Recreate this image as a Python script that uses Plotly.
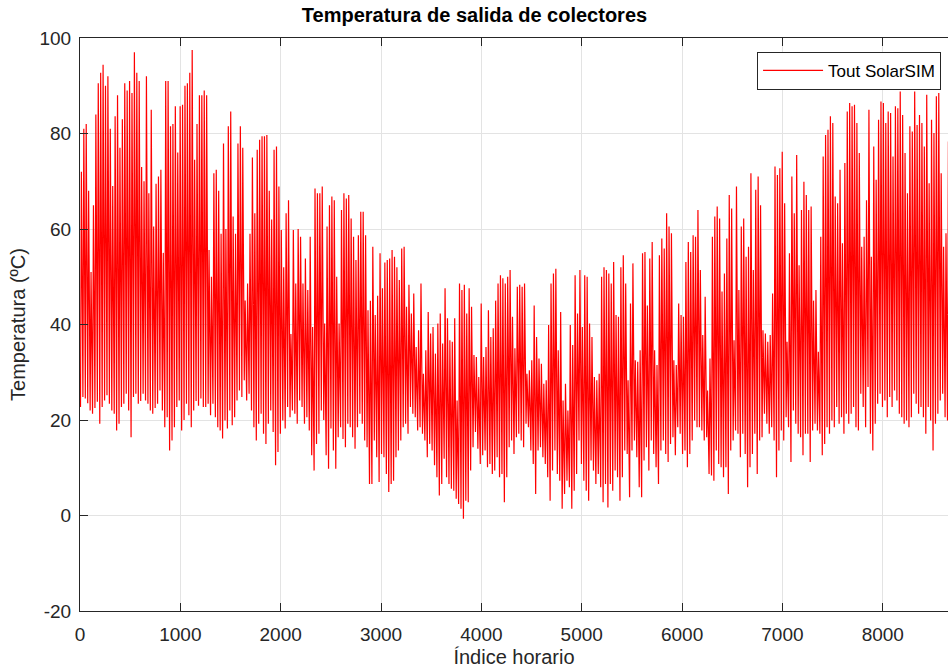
import plotly.graph_objects as go

# Daily maximum outlet temperatures (°C), grouped by ~46-day blocks
max_b1 = [72, 81, 82, 68, 51, 65, 84, 90.5, 92.7, 94.4, 90, 92, 81, 69, 83.6, 88, 77, 83, 90.5, 89, 91, 88.5, 97, 92.7, 91, 73, 70, 92, 67.5, 85, 60.5, 69.5, 71, 72.4, 55, 91, 91, 81.5, 82, 85.7, 76, 85.7, 86, 90, 90.5, 92.7]
max_b2 = [97.5, 74.5, 82, 88, 88, 89, 88, 55.6, 50, 71.7, 72.4, 68, 59, 77.9, 60, 81.5, 84.6, 62.6, 59, 77.9, 81.5, 77, 45, 48.6, 59, 75, 63.3, 76.6, 78.7, 79.4, 79.4, 79.7, 68, 62, 76.6, 77.3, 68.9, 59.8, 52, 63.3, 66, 38, 59.8, 48.6, 60, 58.4]
max_b3 = [48.6, 53.8, 47.2, 58.4, 39.5, 68.5, 67.5, 67.5, 68.9, 40.2, 60.5, 65, 66.8, 66, 50, 40.2, 64, 67.5, 66.4, 67.1, 62.2, 58.4, 53.5, 58.7, 63.6, 63.6, 58.7, 43, 45, 56.3, 42, 46, 54.9, 47.6, 53, 53.5, 53.8, 55.6, 54.2, 52, 49.3, 55.9, 56.3, 43.7, 48.3]
max_b4 = [42.3, 46.5, 35.3, 38.8, 48.6, 29.7, 34.6, 42.6, 38.1, 39.5, 33.9, 40.2, 42.3, 36, 47.6, 41.3, 36.7, 36.4, 41.3, 24.1, 48.6, 47.2, 48.3, 42.3, 47.6, 43.7, 33.6, 33.2, 29, 44.4, 33.2, 35.3, 43, 37.4, 39.2, 45, 48.6, 50.3, 49.7, 48.6, 50, 51.4, 41.6, 35, 47.9, 48.3]
max_b5 = [47.9, 48.6, 29.7, 30.4, 32.5, 44, 37.4, 32.9, 31.8, 27.6, 28.3, 39.9, 48.6, 50.7, 51.7, 34.6, 42.6, 24.1, 27.6, 22, 39.9, 35.7, 50.3, 42.3, 51.4, 39.5, 50.3, 50, 40.2, 37.4, 29, 28.3, 29.7, 50, 52, 51.4, 50.7, 48.6, 53.1, 42, 41.6, 52, 54.5, 48.6, 28.3]
max_b6 = [44.4, 52.8, 32.5, 32.2, 34.6, 54.9, 55.2, 44, 53.8, 57.3, 34.6, 31.5, 54.5, 58, 55.9, 63.3, 60.5, 59.1, 32.5, 31.5, 44.4, 42, 41.6, 53.1, 57.3, 55.2, 58.7, 58.4, 64, 51.4, 37.8, 45.8, 26.2, 32.9, 58.4, 62.6, 64.7, 62.2, 46.9, 50.7, 58, 67.1, 64.3, 36.7, 68.9, 47.2]
max_b7 = [60.5, 62.2, 54.2, 56.3, 71.7, 51.4, 68.2, 71, 65, 38.8, 38.1, 36.4, 37.8, 46.5, 73.1, 71.3, 72.7, 76.2, 65.4, 36.4, 54.9, 71, 63.3, 75.5, 52.4, 64, 69.9, 67.1, 64, 64.7, 45, 47.2, 34.3, 58.4, 75.2, 79.7, 80.8, 83.6, 82.2, 66.8, 65.4, 72.4, 57, 73.8, 84.6, 86.4]
max_b8 = [85.7, 86, 82.2, 75.9, 56.3, 58.4, 66, 85, 54.2, 77.3, 70.3, 82.9, 86.7, 86.4, 82.2, 84.6, 84.3, 75.2, 85.7, 85.3, 88.8, 83.9, 75.9, 67.5, 81.5, 80.4, 88.8, 81.8, 83.9, 82.2, 77.3, 88.1, 69.6, 82.9, 80.1, 87.8, 88.5, 71.7, 56.3, 59.1, 78.3]

# Daily minimum outlet temperatures (°C)
min_b1 = [22.7, 24.8, 24.5, 23.5, 22.0, 21.3, 22.5, 23.8, 19.2, 22.7, 24.1, 25.2, 23.4, 22.0, 21.3, 17.8, 19.2, 22.7, 23.4, 25.5, 22.0, 16.4, 24.8, 25.5, 23.4, 24.0, 25.5, 24.1, 23.4, 22.0, 21.3, 22.5, 23.4, 26.2, 22.0, 18.5, 20.6, 13.6, 15.7, 18.5, 22.7, 24.1, 17.8, 20.0, 23.4, 21.0]
min_b2 = [18.5, 22.0, 24.0, 23.0, 24.5, 22.7, 22.7, 23.4, 21.0, 23.4, 20.6, 18.5, 17.8, 16.1, 19.9, 18.2, 22.0, 18.9, 20.6, 24.1, 26.2, 24.8, 28.3, 24.1, 25.5, 22.0, 18.5, 15.7, 19.2, 21.3, 17.1, 15.0, 19.2, 22.0, 17.5, 10.5, 13.3, 17.1, 19.9, 18.2, 22.7, 20.6, 22.0, 21.3, 19.2, 24.1]
min_b3 = [22.7, 19.2, 20.6, 17.8, 12.6, 9.4, 15.0, 17.1, 22.0, 20.0, 12.6, 9.8, 18.2, 13.6, 9.8, 16.4, 18.5, 16.0, 14.3, 19.2, 18.5, 16.4, 14.0, 18.5, 21.3, 19.2, 15.7, 14.3, 6.6, 6.6, 15.7, 12.2, 7.0, 12.9, 12.2, 8.7, 4.9, 6.6, 7.3, 12.2, 13.6, 15.7, 18.5, 19.2, 17.1]
min_b4 = [22.7, 21.3, 20.6, 17.8, 18.5, 17.1, 15.7, 12.2, 15.0, 13.6, 10.5, 8.0, 4.2, 6.6, 11.9, 8.0, 6.6, 5.6, 5.2, 3.5, 2.4, 1.4, -0.7, 3.1, 2.8, 9.4, 14.3, 17.5, 14.0, 10.8, 12.6, 13.6, 10.1, 10.8, 8.7, 9.4, 12.2, 8.0, 8.7, 2.8, 8.0, 14.3, 15.7, 12.9, 16.4, 17.1]
min_b5 = [15.7, 14.3, 19.2, 18.5, 13.6, 10.8, 4.5, 13.6, 14.3, 12.2, 10.8, 8.0, 3.1, 9.4, 13.6, 8.7, 7.3, 1.4, 4.5, 7.3, 5.9, 1.4, 5.2, 8.7, 15.7, 10.8, 7.3, 5.2, 3.1, 11.5, 9.4, 6.6, 8.7, 5.9, 2.8, 6.6, 1.7, 6.6, 5.2, 9.4, 8.0, 3.1, 8.0, 13.6, 12.9]
min_b6 = [3.8, 13.6, 15.7, 12.2, 5.9, 3.8, 11.5, 14.3, 9.4, 15.7, 12.9, 10.1, 6.6, 13.6, 15.7, 12.9, 11.2, 15.0, 16.4, 12.6, 18.5, 17.1, 12.9, 13.6, 10.1, 12.9, 15.7, 19.9, 18.5, 18.5, 17.8, 15.7, 16.4, 8.7, 8.4, 7.3, 13.6, 10.8, 10.1, 8.0, 10.1, 4.5, 13.6, 15.7, 17.8, 17.1]
min_b7 = [12.2, 17.1, 12.9, 5.9, 10.1, 12.9, 17.1, 8.7, 15.7, 16.4, 21.3, 19.2, 17.1, 18.5, 15.7, 8.0, 13.6, 17.8, 15.7, 20.6, 18.5, 11.2, 22.0, 19.2, 17.1, 16.4, 12.6, 17.1, 17.1, 11.2, 17.8, 19.2, 17.8, 17.1, 12.6, 15.0, 18.5, 17.1, 19.9, 18.5, 22.7, 19.2, 20.6, 17.1, 21.3, 19.2]
min_b8 = [21.3, 22.7, 18.5, 17.8, 25.5, 22.7, 18.5, 26.9, 17.1, 13.6, 19.2, 23.4, 25.5, 22.7, 24.1, 20.6, 24.8, 22.7, 26.2, 24.1, 21.3, 20.6, 19.2, 19.9, 18.5, 20.6, 25.5, 23.4, 21.3, 22.7, 20.6, 17.1, 22.7, 19.9, 13.6, 19.2, 21.3, 24.1, 25.5, 20.6, 19.9]

x_ticks = [0, 1000, 2000, 3000, 4000, 5000, 6000, 7000, 8000]
y_ticks = [-20, 0, 20, 40, 60, 80, 100]
y_tick_text = ["-20", "0", "20", "40", "60", "80", "100"]

daily_max = max_b1 + max_b2 + max_b3 + max_b4 + max_b5 + max_b6 + max_b7 + max_b8
daily_min = min_b1 + min_b2 + min_b3 + min_b4 + min_b5 + min_b6 + min_b7 + min_b8
n_days = min(len(daily_max), len(daily_min))

hours, temps = [], []
for d in range(n_days):
    hours.append(d * 24 + 5)
    temps.append(daily_min[d])
    hours.append(d * 24 + 14)
    temps.append(daily_max[d])

fig = go.Figure()
fig.add_trace(go.Scatter(x=hours, y=temps, mode="lines", name="Tout SolarSIM",
                         line=dict(color="#ff0000", width=1.2)))

font_family = "Liberation Sans, Arial, sans-serif"
fig.update_layout(
    width=949, height=670,
    margin=dict(l=80, r=1, t=38, b=59),
    paper_bgcolor="white", plot_bgcolor="white",
    font=dict(family=font_family, size=19, color="#262626"),
    title=dict(text="<b>Temperatura de salida de colectores</b>", x=0.5, xanchor="center",
               y=1, yref="container", yanchor="top", pad=dict(t=8),
               font=dict(size=20, color="#000000")),
    showlegend=True,
    legend=dict(x=0.992, y=0.976, xanchor="right", yanchor="top",
                bgcolor="white", bordercolor="#262626", borderwidth=1,
                itemwidth=60, tracegroupgap=0,
                font=dict(size=17, color="#000000")),
)
fig.update_xaxes(range=[0, 8650], tickvals=x_ticks, showgrid=True, gridcolor="#e3e3e3",
                 zeroline=False, showline=True, linecolor="#262626", linewidth=1,
                 mirror="ticks", ticks="inside", ticklen=8, tickcolor="#262626",
                 ticklabelstandoff=6,
                 title=dict(text="Índice horario", standoff=6, font=dict(size=20)),
                 automargin=False, tickfont=dict(size=19))
fig.update_yaxes(range=[-20, 100], tickvals=y_ticks, ticktext=y_tick_text,
                 showgrid=True, gridcolor="#e3e3e3",
                 zeroline=False, showline=True, linecolor="#262626", linewidth=1,
                 ticks="inside", ticklen=8, tickcolor="#262626",
                 ticklabelstandoff=4,
                 title=dict(text="Temperatura (ºC)", standoff=8, font=dict(size=20)),
                 automargin=False, tickfont=dict(size=19))

fig.write_html("out.html")
